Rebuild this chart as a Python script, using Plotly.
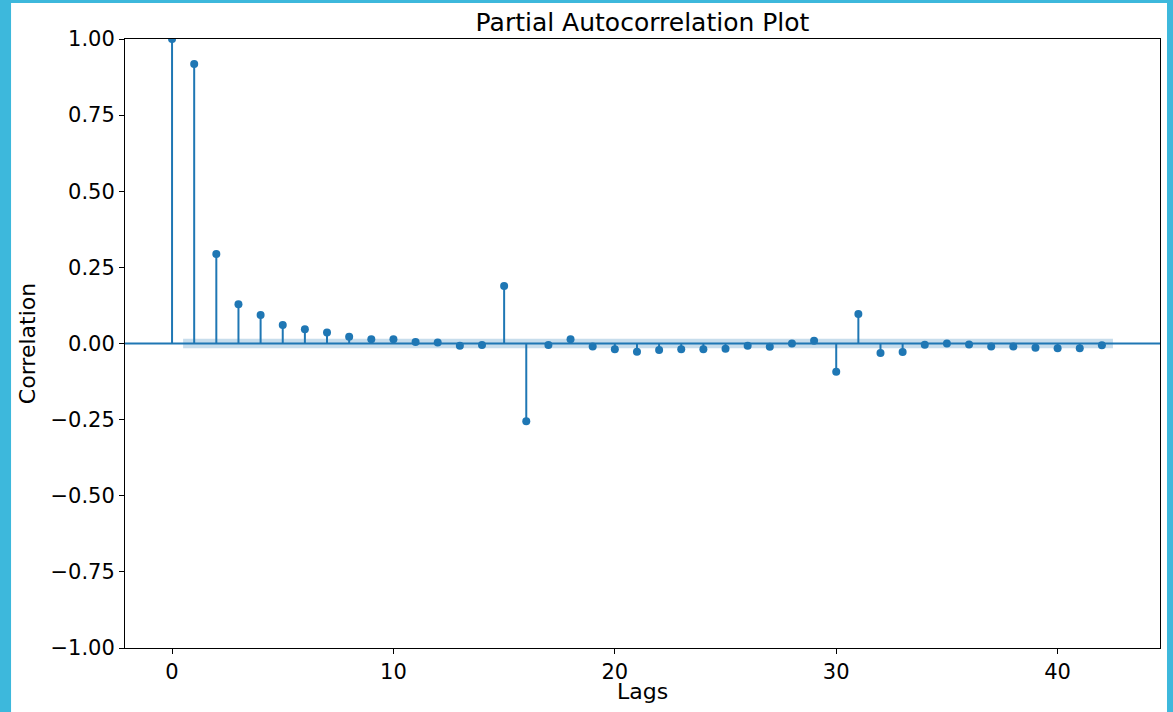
import plotly.graph_objects as go

lags = list(range(43))
pacf = [1.0, 0.918, 0.294, 0.129, 0.094, 0.061, 0.047, 0.036, 0.022, 0.014,
        0.014, 0.005, 0.003, -0.007, -0.005, 0.189, -0.255, -0.005, 0.014, -0.010,
        -0.019, -0.027, -0.021, -0.019, -0.019, -0.017, -0.007, -0.011, 0.000, 0.009,
        -0.093, 0.097, -0.031, -0.028, -0.004, 0.000, -0.003, -0.010, -0.010, -0.014,
        -0.016, -0.016, -0.006]
conf_half = 0.016

x_ticks = [0, 10, 20, 30, 40]
y_ticks = [1.0, 0.75, 0.5, 0.25, 0.0, -0.25, -0.5, -0.75, -1.0]
y_ticktext = [("%.2f" % v).replace("-", "\u2212") for v in y_ticks]

C0 = "#1f77b4"
BORDER = "#3DB8DC"
FONT = "DejaVu Sans"

# stems
sx, sy = [], []
for l, v in zip(lags, pacf):
    sx += [l, l, None]
    sy += [0, v, None]

# confidence band (lags 1..42, ends extended by 0.5)
bx = [float(l) for l in lags[1:]]
bx[0] -= 0.5
bx[-1] += 0.5
band_x = bx + bx[::-1]
band_y = [conf_half] * len(bx) + [-conf_half] * len(bx)

fig = go.Figure()
fig.add_trace(go.Scatter(x=sx, y=sy, mode="lines", line=dict(color=C0, width=2),
                         hoverinfo="skip", showlegend=False))
fig.add_trace(go.Scatter(x=lags, y=pacf, mode="markers",
                         marker=dict(color=C0, size=8), showlegend=False))
fig.add_trace(go.Scatter(x=band_x, y=band_y, mode="lines", fill="toself",
                         fillcolor="rgba(31,119,180,0.25)", line=dict(width=0),
                         hoverinfo="skip", showlegend=False))

# zero line across full width
fig.add_shape(type="line", xref="paper", yref="y", x0=0, x1=1, y0=0, y1=0,
              line=dict(color=C0, width=2))

# white page inside blue frame
fig.add_shape(type="rect", xref="paper", yref="paper", layer="below",
              x0=-0.1101, x1=1.00676, y0=-0.2, y1=1.0591,
              fillcolor="white", line=dict(width=0))

# x-axis title
fig.add_annotation(text="Lags", xref="paper", yref="paper", x=0.5, y=-43 / 609,
                   xanchor="center", yanchor="middle", showarrow=False,
                   font=dict(family=FONT, size=22, color="black"))

fig.update_layout(
    width=1173, height=712,
    margin=dict(l=125, r=13, t=39, b=64, autoexpand=False),
    paper_bgcolor=BORDER,
    plot_bgcolor="rgba(0,0,0,0)",
    font=dict(family=FONT, size=21, color="black"),
    title=dict(text="Partial Autocorrelation Plot", x=0.5, xref="paper",
               y=1 - 22 / 712, yref="container", yanchor="middle",
               font=dict(family=FONT, size=25, color="black")),
    xaxis=dict(range=[-2.125, 44.625], tickvals=x_ticks, ticks="outside", ticklen=5,
               tickwidth=1, tickcolor="black", showgrid=False, zeroline=False,
               showline=True, linecolor="black", linewidth=1, mirror=True,
               automargin=False, tickfont=dict(size=21)),
    yaxis=dict(range=[-1, 1], tickvals=y_ticks, ticktext=y_ticktext, ticks="outside",
               ticklen=5, tickwidth=1, tickcolor="black", showgrid=False, zeroline=False,
               showline=True, linecolor="black", linewidth=1, mirror=True,
               automargin=False,
               title=dict(text="Correlation", standoff=8, font=dict(size=22)),
               tickfont=dict(size=21)),
)

fig.write_html("out.html")
